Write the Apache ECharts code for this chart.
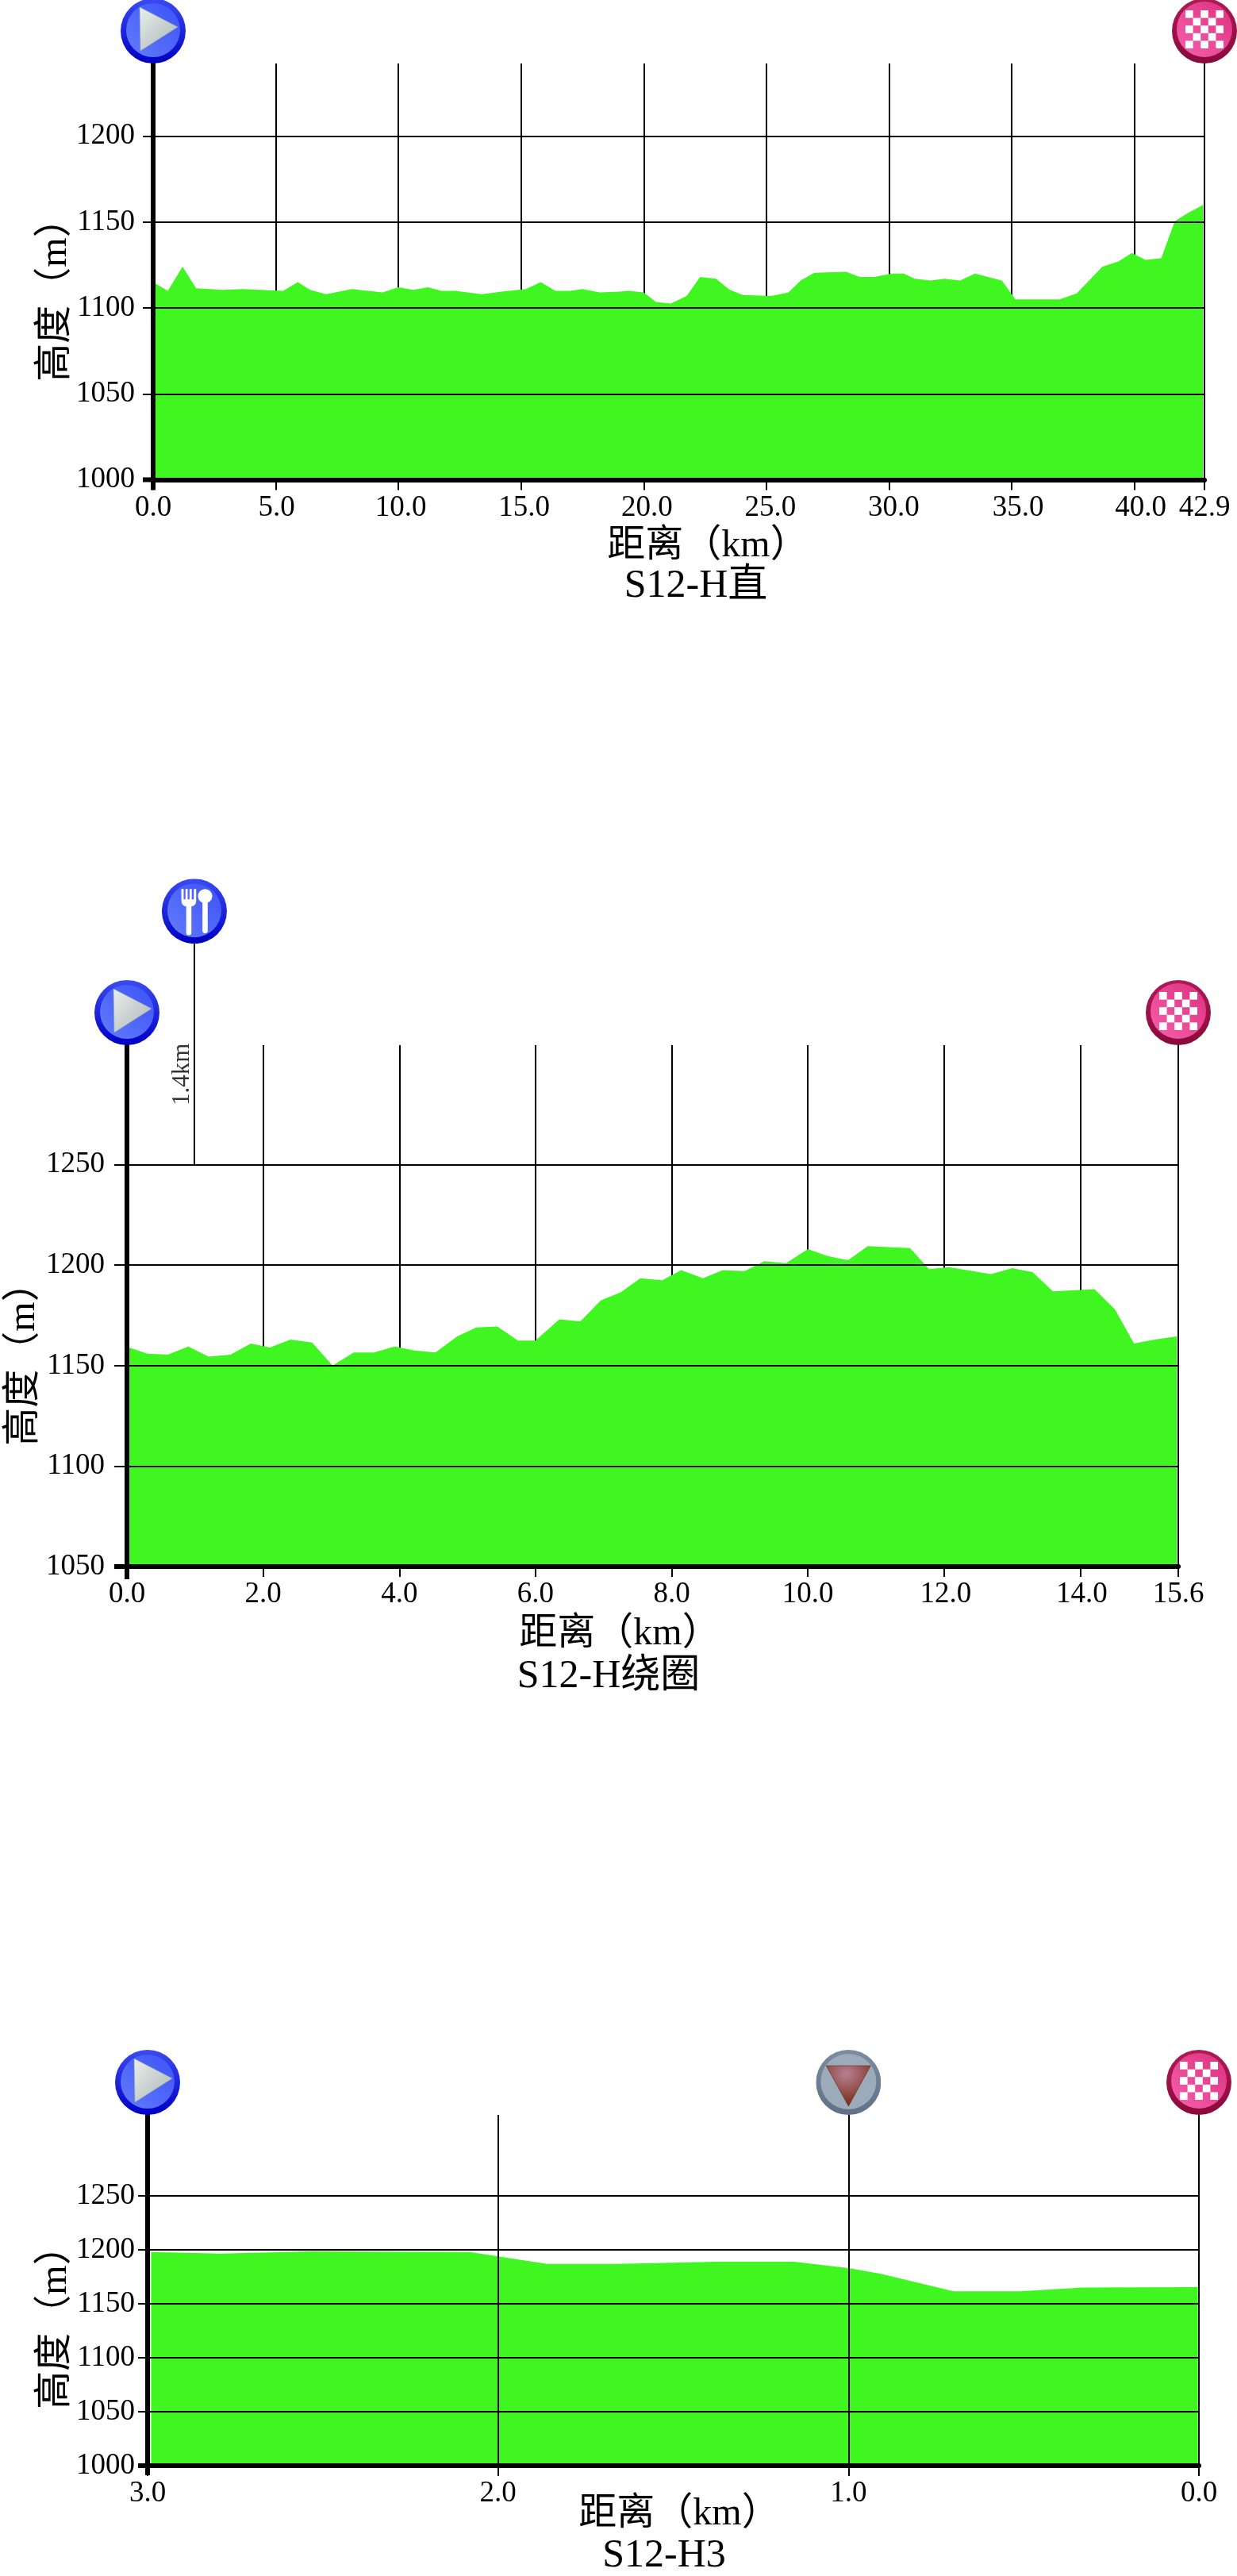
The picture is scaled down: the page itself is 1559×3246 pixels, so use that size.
<!DOCTYPE html>
<html>
<head>
<meta charset="utf-8">
<title>S12 高度图</title>
<script src="https://cdn.jsdelivr.net/npm/echarts@6/dist/echarts.min.js"></script>
<style>
  html, body { margin: 0; padding: 0; background: #ffffff; }
  #main { width: 1559px; height: 3246px; }
</style>
</head>
<body>
<div id="main"></div>
<script>
// S12-H直
var dist1 = [0, 0.6, 1.2, 1.75, 2.85, 3.65, 5.3, 5.9, 6.4, 7.05, 8.1, 9.35, 10, 10.6, 11.2, 11.75, 12.3, 13.4, 14.2, 15.2, 15.8, 16.4, 17, 17.5, 18.2, 19, 19.4, 20, 20.5, 21.1, 21.75, 22.3, 22.95, 23.5, 24.05, 25.2, 25.9, 26.4, 26.95, 28.25, 28.8, 29.4, 30.1, 30.6, 31.05, 31.7, 32.25, 32.9, 33.5, 34.6, 35.15, 36.95, 37.65, 38.7, 39.35, 39.9, 40.45, 41.1, 41.65, 42.15, 42.8]
var elev1 = [1115, 1110, 1124, 1111.5, 1110.5, 1111, 1110, 1115, 1110.5, 1108, 1111, 1109, 1112, 1110.5, 1112, 1110, 1110, 1108, 1109.5, 1111, 1115, 1110, 1110, 1111, 1109, 1109.5, 1110, 1109, 1103.5, 1102.5, 1107, 1118, 1117, 1110.5, 1107.5, 1107, 1109, 1116, 1120.5, 1121, 1118, 1118, 1120, 1120, 1117, 1116, 1117, 1116, 1120, 1116, 1105, 1105, 1108.5, 1124, 1127, 1132, 1128, 1129, 1150.5, 1155, 1160]
var xTicks1 = [0, 5, 10, 15, 20, 25, 30, 35, 40, 42.86]
var xLabels1 = ['0.0', '5.0', '10.0', '15.0', '20.0', '25.0', '30.0', '35.0', '40.0', '42.9']
var yTicks1 = [1000, 1050, 1100, 1150, 1200]

// S12-H绕圈
var dist2 = [0.03, 0.3, 0.6, 0.9, 1.2, 1.52, 1.82, 2.1, 2.4, 2.72, 3.02, 3.33, 3.63, 3.93, 4.22, 4.53, 4.85, 5.13, 5.44, 5.74, 6, 6.35, 6.66, 6.96, 7.25, 7.54, 7.86, 8.14, 8.46, 8.75, 9.07, 9.36, 9.68, 10, 10.29, 10.59, 10.88, 11.5, 11.78, 12.07, 12.69, 13, 13.3, 13.6, 14.21, 14.51, 14.79, 15.09, 15.42]
var elev2 = [1159, 1156, 1155.5, 1159.5, 1154.5, 1155.5, 1161, 1159, 1163, 1161.5, 1150, 1156.5, 1156.5, 1159.5, 1157.5, 1156.5, 1164.5, 1169, 1169.5, 1162.5, 1162.5, 1173, 1172, 1182.5, 1186.5, 1193.5, 1192.5, 1197.5, 1193.5, 1197.5, 1197, 1202, 1201, 1208, 1204.5, 1202.5, 1209.5, 1208.5, 1198, 1199, 1195.5, 1198.5, 1196.5, 1187, 1188, 1178, 1161, 1163, 1164.5]
var xTicks2 = [0, 2, 4, 6, 8, 10, 12, 14, 15.44]
var xLabels2 = ['0.0', '2.0', '4.0', '6.0', '8.0', '10.0', '12.0', '14.0', '15.6']
var yTicks2 = [1050, 1100, 1150, 1200, 1250]
var foodStem = [[0.99, 1250], [0.99, 1360]]
var foodLabel = [[0.99, 1295]]

// S12-H3
var dist3 = [2.99, 2.79, 2.54, 2.08, 2, 1.86, 1.66, 1.375, 1.155, 1, 0.91, 0.7, 0.51, 0.33, 0.003]
var elev3 = [1198, 1196.5, 1198.5, 1198, 1194, 1187, 1187, 1189, 1189, 1183, 1178, 1161.5, 1161.5, 1165, 1165.5]
var xTicks3 = [0, 1, 2, 3]
var xLabels3 = ['0.0', '1.0', '2.0', '3.0']
var yTicks3 = [1000, 1050, 1100, 1150, 1200, 1250]

var FONT = '"Liberation Serif", "Noto Sans CJK SC", serif'
var GREEN = '#40f621'

// 路标图标
function svgIcon(body) {
  var svg = '<svg xmlns="http://www.w3.org/2000/svg" width="164" height="164" viewBox="0 0 82 82"><defs>' +
    '<linearGradient id="b" x1="0" y1="0" x2="0" y2="1"><stop offset="0" stop-color="#3b4bf0"/><stop offset="1" stop-color="#0000c4"/></linearGradient>' +
    '<linearGradient id="bi" x1="1" y1="0" x2="0" y2="1"><stop offset="0" stop-color="#3c52f8"/><stop offset="1" stop-color="#627cfb"/></linearGradient>' +
    '<linearGradient id="t" x1="0" y1="0" x2="1" y2="1"><stop offset="0" stop-color="#e9eeec"/><stop offset="1" stop-color="#a9b6b4"/></linearGradient>' +
    '<linearGradient id="p" x1="0" y1="0" x2="0" y2="1"><stop offset="0" stop-color="#b01a55"/><stop offset="1" stop-color="#8a0a3a"/></linearGradient>' +
    '<linearGradient id="pi" x1="1" y1="0" x2="0" y2="1"><stop offset="0" stop-color="#dc317f"/><stop offset="1" stop-color="#f660ab"/></linearGradient>' +
    '<linearGradient id="g" x1="0" y1="0" x2="0" y2="1"><stop offset="0" stop-color="#7d8da0"/><stop offset="1" stop-color="#5f7088"/></linearGradient>' +
    '<radialGradient id="d" cx="0.45" cy="0.2" r="0.8"><stop offset="0" stop-color="#b87f95"/><stop offset="1" stop-color="#752a10"/></radialGradient>' +
    '</defs>' + body + '</svg>'
  return 'image://data:image/svg+xml;charset=utf-8,' + encodeURIComponent(svg)
}

function checker() {
  var s = ''
  for (var r = 0; r < 5; r++) {
    for (var c = 0; c < 5; c++) {
      if ((r + c) % 2 === 0) {
        s += '<rect x="' + (17 + c * 9.6) + '" y="' + (15 + r * 9.6) + '" width="9.6" height="9.6" fill="#fff"/>'
      }
    }
  }
  return s
}

var iconStart = svgIcon('<circle cx="41" cy="41" r="41" fill="url(#b)"/><circle cx="41" cy="40" r="34" fill="url(#bi)"/><path d="M24 11 L72 36 L25 66 Z" fill="url(#t)" stroke="#9aa6a4" stroke-width="0.6"/>')
var iconEnd = svgIcon('<circle cx="41" cy="41" r="41" fill="url(#p)"/><circle cx="41" cy="39" r="35" fill="url(#pi)"/>' + checker())
var iconFood = svgIcon('<circle cx="41" cy="41" r="41" fill="url(#b)"/><circle cx="41" cy="40" r="34" fill="url(#bi)"/>' +
  '<g fill="#fff"><path d="M24.5 13 h3 v13 h2.3 v-13 h2.8 v13 h2.3 v-13 h2.8 v13 h2.6 v-13 h3 v15 q0 6 -6 7 v33 a3.3 3.3 0 0 1 -6.6 0 v-33 q-6 -1 -6 -7 z"/>' +
  '<circle cx="54.5" cy="22" r="9"/><rect x="51.2" y="24" width="6.6" height="45" rx="3.3"/></g>')
var iconSprint = svgIcon('<circle cx="41" cy="41" r="41" fill="url(#g)"/><circle cx="41" cy="40" r="35" fill="#9babba"/><path d="M13 20 L69 20 L41 71 Z" fill="url(#d)" stroke="#6e2a12" stroke-width="0.6"/>')

function iconSeries(xIndex, yIndex, items) {
  return {
    type: 'scatter',
    xAxisIndex: xIndex,
    yAxisIndex: yIndex,
    clip: false,
    silent: true,
    z: 6,
    symbolSize: 82,
    symbolOffset: [0, '-50%'],
    itemStyle: { opacity: 1 },
    data: items
  }
}

function areaSeries(xIndex, yIndex, xs, ys) {
  return {
    type: 'line',
    xAxisIndex: xIndex,
    yAxisIndex: yIndex,
    symbol: 'none',
    silent: true,
    z: 2,
    lineStyle: { width: 0 },
    itemStyle: { color: GREEN },
    areaStyle: { color: GREEN, opacity: 1 },
    data: xs.map(function(x, i) { return [x, ys[i]] })
  }
}

// 网格竖线层
function gridXAxis(gridIndex, max, ticks, z) {
  return {
    type: 'value',
    gridIndex: gridIndex,
    position: 'bottom',
    min: 0,
    max: max,
    z: z,
    axisLine: { show: false },
    axisTick: { show: false, customValues: ticks },
    axisLabel: { show: false, customValues: ticks },
    splitLine: { show: true, lineStyle: { color: '#000', width: 2 } }
  }
}

// 刻度和底线层, shifts是刻度文字向右偏移的像素
function labelXAxis(gridIndex, max, ticks, labels, inverse, split, shifts) {
  var rich = {}
  ticks.forEach(function(t, i) {
    rich['s' + i] = { color: '#000', fontSize: 37, fontFamily: FONT, padding: [0, 0, 0, shifts ? shifts[i] * 2 : 0] }
  })
  return {
    type: 'value',
    gridIndex: gridIndex,
    position: 'bottom',
    min: 0,
    max: max,
    inverse: inverse,
    z: 4,
    axisLine: { show: true, onZero: false, lineStyle: { color: '#000', width: 6 } },
    axisTick: { show: true, length: 13, customValues: ticks, lineStyle: { color: '#000', width: 2 } },
    axisLabel: {
      show: true,
      customValues: ticks,
      margin: 17,
      formatter: function(v) {
        var i = ticks.indexOf(v)
        return '{s' + i + '|' + labels[i] + '}'
      },
      rich: rich
    },
    splitLine: { show: split, lineStyle: { color: '#000', width: 2 } }
  }
}

function elevYAxis(gridIndex, min, max, ticks, tickLen, margin) {
  return {
    type: 'value',
    gridIndex: gridIndex,
    min: min,
    max: max,
    z: 3,
    axisLine: { show: true, onZero: false, lineStyle: { color: '#000', width: 6 } },
    axisTick: { show: true, length: tickLen, customValues: ticks, lineStyle: { color: '#000', width: 2 } },
    axisLabel: {
      customValues: ticks,
      margin: margin,
      color: '#000',
      fontSize: 37,
      fontFamily: FONT,
      formatter: function(v) { return String(v) }
    },
    splitLine: { show: true, lineStyle: { color: '#000', width: 2 } }
  }
}

function caption(text, x, y, size, rotation) {
  return {
    type: 'text',
    x: x,
    y: y,
    z: 10,
    rotation: rotation || 0,
    style: {
      text: text,
      x: 0,
      y: 0,
      align: 'center',
      verticalAlign: 'middle',
      fill: '#000',
      font: size + 'px ' + FONT
    }
  }
}

// 原点处加粗的短线
function cornerMarks(left, bottom, len) {
  return [
    { type: 'rect', z: 10, shape: { x: left - len, y: bottom - 3, width: len, height: 6 }, style: { fill: '#000' } },
    { type: 'rect', z: 10, shape: { x: left - 3, y: bottom, width: 6, height: len }, style: { fill: '#000' } }
  ]
}

var option = {
  animation: false,
  backgroundColor: '#ffffff',
  grid: [
    { left: 193, top: 80, width: 1325, height: 524.5 },
    { left: 160, top: 1317, width: 1325, height: 657 },
    { left: 186, top: 2665, width: 1325, height: 442 }
  ],
  xAxis: [
    gridXAxis(0, 42.86, xTicks1, 1),
    gridXAxis(1, 15.44, xTicks2, 1),
    labelXAxis(0, 42.86, xTicks1, xLabels1, false, false, [0, 1, 3, 4, 4, 5, 6, 8, 8, 0]),
    labelXAxis(1, 15.44, xTicks2, xLabels2, false, false, [0, 0, 0, 0, 0, 0, 2, 2, 0]),
    labelXAxis(2, 3, xTicks3, xLabels3, true, true)
  ],
  yAxis: [
    elevYAxis(0, 1000, 1242.3, yTicks1, 13, 23),
    elevYAxis(1, 1050, 1309.5, yTicks2, 16, 28),
    elevYAxis(2, 1000, 1325, yTicks3, 12, 16)
  ],
  series: [
    areaSeries(0, 0, dist1, elev1),
    areaSeries(1, 1, dist2, elev2),
    areaSeries(4, 2, dist3, elev3),
    iconSeries(0, 0, [
      { value: [0, 1242.3], symbol: iconStart },
      { value: [42.86, 1242.3], symbol: iconEnd }
    ]),
    iconSeries(1, 1, [
      { value: [0, 1309.5], symbol: iconStart },
      { value: [15.44, 1309.5], symbol: iconEnd },
      { value: foodStem[1], symbol: iconFood }
    ]),
    iconSeries(4, 2, [
      { value: [3, 1325], symbol: iconStart },
      { value: [1, 1325], symbol: iconSprint },
      { value: [0, 1325], symbol: iconEnd }
    ]),
    {
      type: 'line',
      xAxisIndex: 1,
      yAxisIndex: 1,
      clip: false,
      silent: true,
      symbol: 'none',
      z: 3,
      lineStyle: { color: '#000', width: 2 },
      data: foodStem
    },
    {
      type: 'scatter',
      xAxisIndex: 1,
      yAxisIndex: 1,
      clip: false,
      silent: true,
      symbolSize: 0,
      z: 5,
      label: {
        show: true,
        position: 'inside',
        offset: [0, -15],
        rotate: 90,
        color: '#000',
        fontSize: 31,
        fontFamily: FONT,
        formatter: '1.4km'
      },
      data: foodLabel
    }
  ],
  graphic: {
    elements: [
      caption('高度（m）', 70, 366, 48, Math.PI / 2),
      caption('距离（km）', 892, 688, 48),
      caption('S12-H直', 877, 739, 50),
      caption('高度（m）', 30, 1707, 48, Math.PI / 2),
      caption('距离（km）', 781, 2059, 48),
      caption('S12-H绕圈', 767, 2113, 50),
      caption('高度（m）', 70, 2921, 48, Math.PI / 2),
      caption('距离（km）', 856, 3168, 48),
      caption('S12-H3', 837, 3221, 50)
    ].concat(cornerMarks(193, 604.5, 13), cornerMarks(160, 1974, 16), cornerMarks(186, 3107, 12))
  }
}

var myChart = echarts.init(document.getElementById('main'))
myChart.setOption(option)
</script>
</body>
</html>
